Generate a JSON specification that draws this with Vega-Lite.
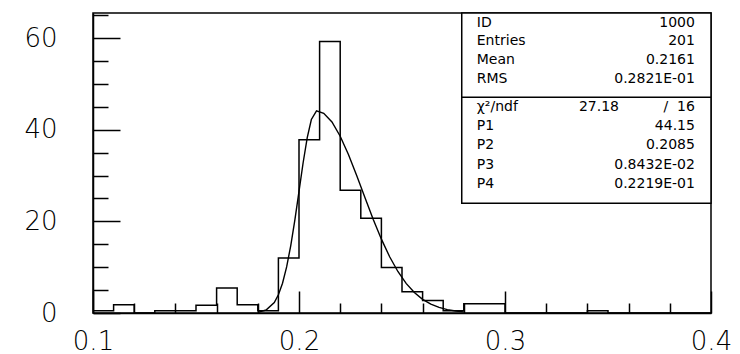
{
  "$schema": "https://vega.github.io/schema/vega-lite/v6.json",
  "width": 618,
  "height": 300,
  "autosize": {"type": "none"},
  "padding": {"left": 93, "top": 13, "right": 29, "bottom": 41},
  "background": "white",
  "config": {
    "view": {"stroke": "black", "strokeWidth": 1.5},
    "axis": {"grid": false, "title": null, "domainColor": "black", "tickColor": "black", "labelColor": "black", "labelFont": "DejaVu Sans", "labelFontSize": 26, "labelFontWeight": 200, "domainWidth": 1.5, "tickWidth": 1.5, "labelFlush": false, "labelOverlap": false}
  },
  "datasets": {
    "hist": [
      {"x": 0.10, "n": 0.5}, {"x": 0.11, "n": 1.8}, {"x": 0.12, "n": 0}, {"x": 0.13, "n": 0.5},
      {"x": 0.14, "n": 0.5}, {"x": 0.15, "n": 1.7}, {"x": 0.16, "n": 5.45}, {"x": 0.17, "n": 1.8},
      {"x": 0.18, "n": 0.5}, {"x": 0.19, "n": 12}, {"x": 0.20, "n": 37.8}, {"x": 0.21, "n": 59.3},
      {"x": 0.22, "n": 26.8}, {"x": 0.23, "n": 20.7}, {"x": 0.24, "n": 9.95}, {"x": 0.25, "n": 4.65},
      {"x": 0.26, "n": 2.75}, {"x": 0.27, "n": 0.5}, {"x": 0.28, "n": 2}, {"x": 0.29, "n": 2},
      {"x": 0.30, "n": 0}, {"x": 0.31, "n": 0}, {"x": 0.32, "n": 0}, {"x": 0.33, "n": 0},
      {"x": 0.34, "n": 0.5}, {"x": 0.35, "n": 0}, {"x": 0.36, "n": 0}, {"x": 0.37, "n": 0},
      {"x": 0.38, "n": 0}, {"x": 0.39, "n": 0}, {"x": 0.40, "n": 0}
    ],
    "curve": [
      {"x": 0.180, "f": 0.15}, {"x": 0.184, "f": 0.65}, {"x": 0.188, "f": 2.30}, {"x": 0.190, "f": 3.98},
      {"x": 0.192, "f": 6.50}, {"x": 0.194, "f": 10.06}, {"x": 0.196, "f": 14.72}, {"x": 0.198, "f": 20.33},
      {"x": 0.200, "f": 26.57}, {"x": 0.202, "f": 32.80}, {"x": 0.204, "f": 38.29}, {"x": 0.206, "f": 42.25},
      {"x": 0.2085, "f": 44.15}, {"x": 0.212, "f": 43.60}, {"x": 0.216, "f": 41.70}, {"x": 0.220, "f": 38.60},
      {"x": 0.224, "f": 34.59}, {"x": 0.228, "f": 30.01}, {"x": 0.232, "f": 25.20}, {"x": 0.236, "f": 20.49},
      {"x": 0.240, "f": 16.12}, {"x": 0.244, "f": 12.28}, {"x": 0.248, "f": 9.06}, {"x": 0.252, "f": 6.46},
      {"x": 0.256, "f": 4.47}, {"x": 0.260, "f": 2.99}, {"x": 0.264, "f": 1.93}, {"x": 0.268, "f": 1.21},
      {"x": 0.272, "f": 0.74}, {"x": 0.276, "f": 0.43}, {"x": 0.280, "f": 0.25}
    ],
    "statsTop": [
      {"k": "ID", "v": "1000"},
      {"k": "Entries", "v": "201"},
      {"k": "Mean", "v": "0.2161"},
      {"k": "RMS", "v": "0.2821E-01"}
    ],
    "statsFit": [
      {"k": "χ²/ndf", "v": "27.18\u00a0\u00a0\u00a0\u00a0\u00a0\u00a0\u00a0\u00a0\u00a0\u00a0/\u00a0\u00a016"},
      {"k": "P1", "v": "44.15"},
      {"k": "P2", "v": "0.2085"},
      {"k": "P3", "v": "0.8432E-02"},
      {"k": "P4", "v": "0.2219E-01"}
    ]
  },
  "resolve": {"scale": {"y": "independent"}, "axis": {"x": "independent", "y": "independent"}},
  "layer": [
    {
      "data": {"name": "hist"},
      "mark": {"type": "line", "interpolate": "step-after", "color": "black", "strokeWidth": 1.5},
      "encoding": {
        "x": {"field": "x", "type": "quantitative", "scale": {"domain": [0.1, 0.4], "nice": false, "zero": false},
              "axis": {"orient": "bottom", "values": [0.1, 0.2, 0.3, 0.4], "format": ".1f", "tickSize": -22, "labelPadding": 37}},
        "y": {"field": "n", "type": "quantitative", "scale": {"domain": [0, 65.5], "nice": false},
              "axis": {"orient": "left", "values": [0, 20, 40, 60], "tickSize": -27, "labelPadding": 63}}
      }
    },
    {
      "data": {"name": "curve"},
      "mark": {"type": "line", "color": "black", "strokeWidth": 1.4},
      "encoding": {
        "x": {"field": "x", "type": "quantitative", "scale": {"domain": [0.1, 0.4], "nice": false, "zero": false},
              "axis": {"orient": "bottom", "values": [0.12, 0.14, 0.16, 0.18, 0.22, 0.24, 0.26, 0.28, 0.32, 0.34, 0.36, 0.38], "tickSize": -10, "labels": false, "domain": false}},
        "y": {"field": "f", "type": "quantitative", "scale": {"domain": [0, 65.5], "nice": false},
              "axis": {"orient": "left", "values": [5, 10, 15, 25, 30, 35, 45, 50, 55, 65], "tickSize": -15, "labels": false, "domain": false}}
      }
    },
    {
      "data": {"values": [{}]},
      "mark": {"type": "rect", "fill": "white", "stroke": "black", "strokeWidth": 1.5},
      "encoding": {
        "x": {"datum": 0.279, "type": "quantitative", "scale": {"domain": [0.1, 0.4], "nice": false, "zero": false}, "axis": null},
        "x2": {"datum": 0.4},
        "y": {"datum": 23.95, "type": "quantitative", "scale": {"domain": [0, 65.5], "nice": false}, "axis": null},
        "y2": {"datum": 65.5}
      }
    },
    {
      "data": {"values": [{}]},
      "mark": {"type": "rule", "color": "black", "strokeWidth": 1.5},
      "encoding": {
        "x": {"datum": 0.279, "type": "quantitative", "scale": {"domain": [0.1, 0.4], "nice": false, "zero": false}, "axis": null},
        "x2": {"datum": 0.4},
        "y": {"datum": 47.1, "type": "quantitative", "scale": {"domain": [0, 65.5], "nice": false}, "axis": null}
      }
    },
    {
      "data": {"name": "statsTop"},
      "mark": {"type": "text", "align": "left", "baseline": "middle", "font": "DejaVu Sans", "fontSize": 14, "color": "black"},
      "encoding": {
        "x": {"datum": 0.2863, "type": "quantitative", "scale": {"domain": [0.1, 0.4], "nice": false, "zero": false}, "axis": null},
        "y": {"field": "k", "type": "ordinal", "sort": null, "scale": {"type": "point", "range": [9.7, 66], "padding": 0}, "axis": null},
        "text": {"field": "k"}
      }
    },
    {
      "data": {"name": "statsTop"},
      "mark": {"type": "text", "align": "right", "baseline": "middle", "font": "DejaVu Sans", "fontSize": 14, "color": "black"},
      "encoding": {
        "x": {"datum": 0.3922, "type": "quantitative", "scale": {"domain": [0.1, 0.4], "nice": false, "zero": false}, "axis": null},
        "y": {"field": "k", "type": "ordinal", "sort": null, "scale": {"type": "point", "range": [9.7, 66], "padding": 0}, "axis": null},
        "text": {"field": "v"}
      }
    },
    {
      "data": {"name": "statsFit"},
      "mark": {"type": "text", "align": "left", "baseline": "middle", "font": "DejaVu Sans", "fontSize": 14, "color": "black"},
      "encoding": {
        "x": {"datum": 0.2863, "type": "quantitative", "scale": {"domain": [0.1, 0.4], "nice": false, "zero": false}, "axis": null},
        "y": {"field": "k", "type": "ordinal", "sort": null, "scale": {"type": "point", "range": [94, 170.7], "padding": 0}, "axis": null},
        "text": {"field": "k"}
      }
    },
    {
      "data": {"name": "statsFit"},
      "mark": {"type": "text", "align": "right", "baseline": "middle", "font": "DejaVu Sans", "fontSize": 14, "color": "black"},
      "encoding": {
        "x": {"datum": 0.3922, "type": "quantitative", "scale": {"domain": [0.1, 0.4], "nice": false, "zero": false}, "axis": null},
        "y": {"field": "k", "type": "ordinal", "sort": null, "scale": {"type": "point", "range": [94, 170.7], "padding": 0}, "axis": null},
        "text": {"field": "v"}
      }
    }
  ]
}
